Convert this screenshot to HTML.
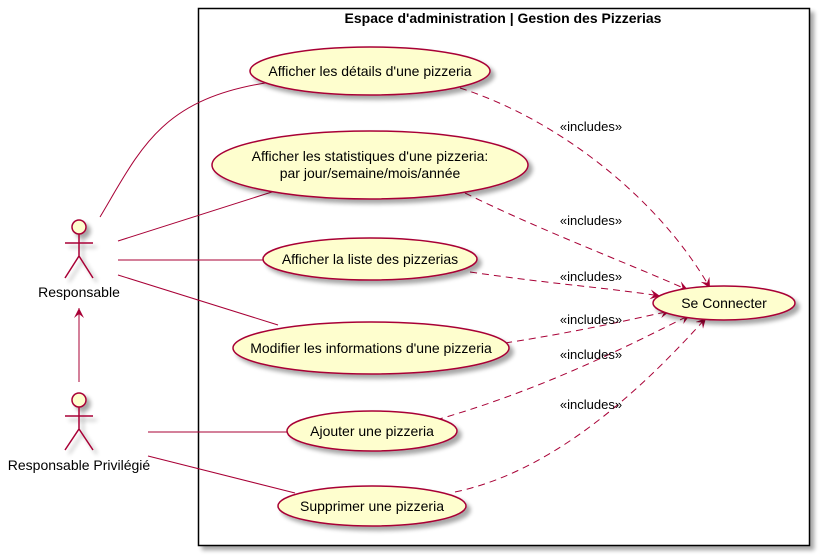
<!DOCTYPE html>
<html><head><meta charset="utf-8"><style>body{margin:0;background:#fff}svg{display:block}text{font-family:"Liberation Sans",sans-serif;fill:#000}</style></head><body>
<svg width="820" height="555" viewBox="0 0 820 555" xmlns="http://www.w3.org/2000/svg">
<defs>
<filter id="sh" x="-20%" y="-20%" width="150%" height="160%"><feGaussianBlur in="SourceAlpha" stdDeviation="2"/><feOffset dx="4" dy="4"/><feComponentTransfer><feFuncA type="linear" slope="0.35"/></feComponentTransfer><feMerge><feMergeNode/><feMergeNode in="SourceGraphic"/></feMerge></filter>
<marker id="ar" markerWidth="12" markerHeight="10" refX="10" refY="5" orient="auto" markerUnits="userSpaceOnUse"><path d="M0,0 L10,5 L0,10 L4,5 Z" fill="#A80036"/></marker>
</defs>
<rect x="198.5" y="8.5" width="611" height="537" fill="#fff" stroke="#000" stroke-width="1.5" filter="url(#sh)"/>
<text x="503" y="23" font-size="14" font-weight="bold" text-anchor="middle">Espace d'administration | Gestion des Pizzerias</text>
<g stroke="#A80036" fill="none" stroke-width="1">
<path d="M100,217 C140,150 160,100 265,83"/>
<path d="M118,241 L275,191"/>
<path d="M118,260 L263,260"/>
<path d="M118,275 L278,325"/>
<path d="M148,432 L287,432"/>
<path d="M148,456 L295,493"/>
<g stroke-dasharray="7,5" marker-end="url(#ar)">
<path d="M460,88 C560,120 660,200 710,288"/>
<path d="M465,193 C540,230 620,260 688,290"/>
<path d="M470,272 C560,285 610,288 660,296"/>
<path d="M505,343 C570,333 620,322 670,311"/>
<path d="M436,420 C540,390 620,350 690,315"/>
<path d="M455,492 C560,470 650,380 706,318"/>
</g>
<path d="M79,382 L79,308" marker-end="url(#ar)"/>
</g>
<g fill="#FEFECE" stroke="#A80036" stroke-width="1.5" filter="url(#sh)">
<ellipse cx="370" cy="71" rx="120" ry="24"/>
<ellipse cx="370" cy="165" rx="158" ry="34"/>
<ellipse cx="370" cy="259" rx="107" ry="21"/>
<ellipse cx="371" cy="348" rx="138" ry="26"/>
<ellipse cx="372" cy="431" rx="85" ry="20"/>
<ellipse cx="372" cy="506" rx="94" ry="20"/>
<ellipse cx="724" cy="303" rx="71" ry="17"/>
</g>
<g font-size="14" text-anchor="middle">
<text x="370" y="76">Afficher les détails d'une pizzeria</text>
<text x="370" y="161">Afficher les statistiques d'une pizzeria:</text>
<text x="370" y="178">par jour/semaine/mois/année</text>
<text x="370" y="264">Afficher la liste des pizzerias</text>
<text x="371" y="353">Modifier les informations d'une pizzeria</text>
<text x="372" y="436">Ajouter une pizzeria</text>
<text x="372" y="511">Supprimer une pizzeria</text>
<text x="724" y="308">Se Connecter</text>
<text x="79" y="297">Responsable</text>
<text x="79" y="470">Responsable Privilégié</text>
</g>
<g font-size="13" text-anchor="middle">
<text x="591" y="131">«includes»</text>
<text x="591" y="225">«includes»</text>
<text x="591" y="281">«includes»</text>
<text x="591" y="324">«includes»</text>
<text x="591" y="359">«includes»</text>
<text x="591" y="409">«includes»</text>
</g>
<g stroke="#A80036" stroke-width="1.5" fill="#FEFECE" filter="url(#sh)">
<circle cx="79" cy="227" r="7"/>
<path d="M79,234 L79,256 M65,243 L93,243 M65,278 L79,256 L93,278" fill="none"/>
<circle cx="79" cy="400" r="7"/>
<path d="M79,407 L79,429 M65,416 L93,416 M65,450 L79,429 L93,450" fill="none"/>
</g>
</svg>
</body></html>
